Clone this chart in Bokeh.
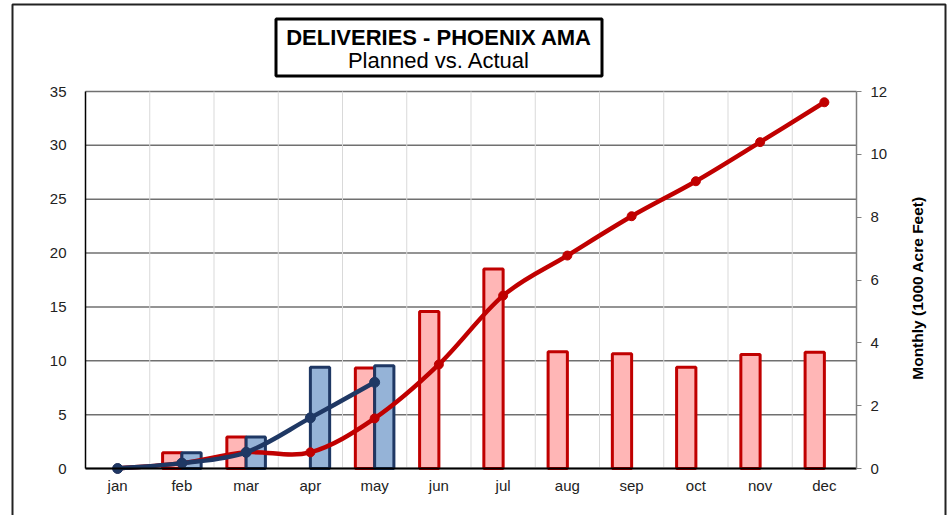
import math
import numpy as np
from bokeh.plotting import figure
from bokeh.models import Range1d, LinearAxis, FixedTicker, ColumnDataSource, Label, BoxAnnotation
from bokeh.embed import file_html
from bokeh.resources import INLINE

# ---- data (1000 acre feet) ----
months = ["jan", "feb", "mar", "apr", "may", "jun", "jul", "aug", "sep", "oct", "nov", "dec"]
planned_monthly = [0, 0.5, 1.0, 0, 3.2, 5.0, 6.35, 3.72, 3.65, 3.22, 3.63, 3.7]
actual_monthly = [0, 0.5, 1.0, 3.22, 3.27]
planned_cumulative = [0, 0.5, 1.5, 1.5, 4.65, 9.66, 16.05, 19.77, 23.42, 26.67, 30.3, 34.0]
actual_cumulative = [0, 0.5, 1.5, 4.7, 8.0]
left_ticks = [0, 5, 10, 15, 20, 25, 30, 35]
right_ticks = [0, 2, 4, 6, 8, 10, 12]
title_line1 = "DELIVERIES - PHOENIX AMA"
title_line2 = "Planned vs. Actual"
right_label = "Monthly (1000 Acre Feet)"

FONT = "Liberation Sans"
RED = "#C00000"
PINK = "#FFB6B6"
NAVY = "#1F3864"
LIGHTBLUE = "#95B3D7"
TICK_FS = "15px"

# ---- layout (page pixels) ----
W, H = 947, 515
PL, PR, PT, PB = 85, 856, 91, 468          # plot area
FL, FR, FT, FB = 10, 947, 2, 515           # drawing frame (whole chart area)
LMAX, RMAX, NCAT = 35.0, 12.0, len(months)

xs = (PR - PL) / NCAT          # px per category
ys = (PB - PT) / LMAX          # px per left unit


def xd(px):
    return (px - PL) / xs


def yd(py):
    return (PB - py) / ys


p = figure(width=W, height=H,
           x_range=Range1d(xd(FL), xd(FR)), y_range=Range1d(yd(FB), yd(FT)),
           output_backend="svg", toolbar_location=None, title=None,
           min_border_left=FL, min_border_right=W - FR, min_border_top=FT, min_border_bottom=H - FB)
p.outline_line_color = None
p.background_fill_color = "white"
p.border_fill_color = "white"
p.xgrid.visible = False
p.ygrid.visible = False
p.extra_y_ranges = {"monthly": Range1d(yd(FB) * RMAX / LMAX, yd(FT) * RMAX / LMAX)}

pos = np.arange(NCAT) + 0.5

# ---- gridlines ----
lt = np.array(left_ticks, dtype=float)
p.segment(x0=np.zeros_like(lt), x1=np.full_like(lt, NCAT), y0=lt, y1=lt,
          line_color="#707070", line_width=1.5)
bnd = np.arange(1, NCAT, dtype=float)
p.segment(x0=bnd, x1=bnd, y0=np.zeros_like(bnd), y1=np.full_like(bnd, LMAX),
          line_color="#D9D9D9", line_width=1)

# ---- left axis ----
ya = p.yaxis[0]
ya.fixed_location = 0
ya.bounds = (0, LMAX)
ya.ticker = FixedTicker(ticks=left_ticks)
ya.major_tick_out = 0
ya.major_tick_in = 0
ya.minor_tick_line_color = None
ya.axis_line_color = "black"
ya.axis_line_width = 1.5
ya.major_label_standoff = 19
ya.major_label_text_font = FONT
ya.major_label_text_font_size = TICK_FS
ya.major_label_text_color = "#222222"

# ---- bottom axis ----
xa = p.xaxis[0]
xa.fixed_location = 0
xa.bounds = (0, NCAT)
xa.ticker = FixedTicker(ticks=list(pos))
xa.major_label_overrides = {float(x): m for x, m in zip(pos, months)}
xa.major_tick_out = 0
xa.major_tick_in = 0
xa.minor_tick_line_color = None
xa.axis_line_color = "black"
xa.axis_line_width = 2
xa.major_label_standoff = 8
xa.major_label_text_font = FONT
xa.major_label_text_font_size = TICK_FS
xa.major_label_text_color = "#222222"

# ---- right axis ----
ra = LinearAxis(y_range_name="monthly", ticker=FixedTicker(ticks=right_ticks),
                fixed_location=NCAT, bounds=(0, RMAX))
ra.major_tick_out = 5
ra.major_tick_in = 0
ra.minor_tick_line_color = None
ra.major_tick_line_color = "#808080"
ra.axis_line_color = "#808080"
ra.axis_line_width = 1.5
ra.major_label_standoff = 9
ra.major_label_text_font = FONT
ra.major_label_text_font_size = TICK_FS
ra.major_label_text_color = "#222222"
p.add_layout(ra, "right")
p.add_layout(Label(x=xd(916.5), y=yd(287.5), text=right_label, angle=math.pi / 2,
                   text_align="center", text_baseline="middle", text_font=FONT,
                   text_font_size="15.5px", text_font_style="bold", text_color="black"))

# ---- bars ----
pm = np.array(planned_monthly, dtype=float)
mask = pm > 0
p.vbar(x=pos[mask] - 0.15, top=pm[mask], bottom=0, width=0.3, y_range_name="monthly",
       fill_color=PINK, line_color=RED, line_width=3)
am = np.array(actual_monthly, dtype=float)
apos = pos[:len(am)]
amask = am > 0
p.vbar(x=apos[amask] + 0.15, top=am[amask], bottom=0, width=0.3, y_range_name="monthly",
       fill_color=LIGHTBLUE, line_color=NAVY, line_width=3)


def smooth_segments(xv, yv):
    xv = list(xv); yv = list(yv); n = len(xv)
    d = dict(x0=[], y0=[], x1=[], y1=[], cx0=[], cy0=[], cx1=[], cy1=[])
    for i in range(n - 1):
        xp, yp = (xv[i - 1], yv[i - 1]) if i > 0 else (xv[i], yv[i])
        xn, yn = (xv[i + 2], yv[i + 2]) if i + 2 < n else (xv[i + 1], yv[i + 1])
        d["x0"].append(xv[i]); d["y0"].append(yv[i])
        d["x1"].append(xv[i + 1]); d["y1"].append(yv[i + 1])
        d["cx0"].append(xv[i] + (xv[i + 1] - xp) / 6); d["cy0"].append(yv[i] + (yv[i + 1] - yp) / 6)
        d["cx1"].append(xv[i + 1] - (xn - xv[i]) / 6); d["cy1"].append(yv[i + 1] - (yn - yv[i]) / 6)
    return ColumnDataSource(d)


# ---- cumulative lines ----
p.bezier(source=smooth_segments(pos, planned_cumulative), x0="x0", y0="y0", x1="x1", y1="y1",
         cx0="cx0", cy0="cy0", cx1="cx1", cy1="cy1", line_color=RED, line_width=4.5, line_cap="round")
p.scatter(pos, planned_cumulative, size=9, fill_color=RED, line_color=RED)
p.bezier(source=smooth_segments(apos, actual_cumulative), x0="x0", y0="y0", x1="x1", y1="y1",
         cx0="cx0", cy0="cy0", cx1="cx1", cy1="cy1", line_color=NAVY, line_width=4.5, line_cap="round")
p.scatter(apos, actual_cumulative, size=10, fill_color=NAVY, line_color=NAVY)

# ---- outer chart border ----
p.add_layout(BoxAnnotation(left=xd(12), right=xd(945), top=yd(4), bottom=yd(FB + 20),
                           fill_alpha=0, line_color="#222222", line_width=2, line_alpha=1))

# ---- title box ----
p.add_layout(BoxAnnotation(left=xd(275.5), right=xd(601.5), top=yd(18.5), bottom=yd(75.5),
                           fill_color="white", fill_alpha=1, line_color="black", line_width=3, line_alpha=1))
p.add_layout(Label(x=xd(438.5), y=yd(36.7), text=title_line1, text_align="center",
                   text_baseline="middle", text_font=FONT, text_font_size="22px",
                   text_font_style="bold", text_color="black"))
p.add_layout(Label(x=xd(438.5), y=yd(60.3), text=title_line2, text_align="center",
                   text_baseline="middle", text_font=FONT, text_font_size="22px",
                   text_color="black"))

open("out.html", "w").write(file_html(p, INLINE))
